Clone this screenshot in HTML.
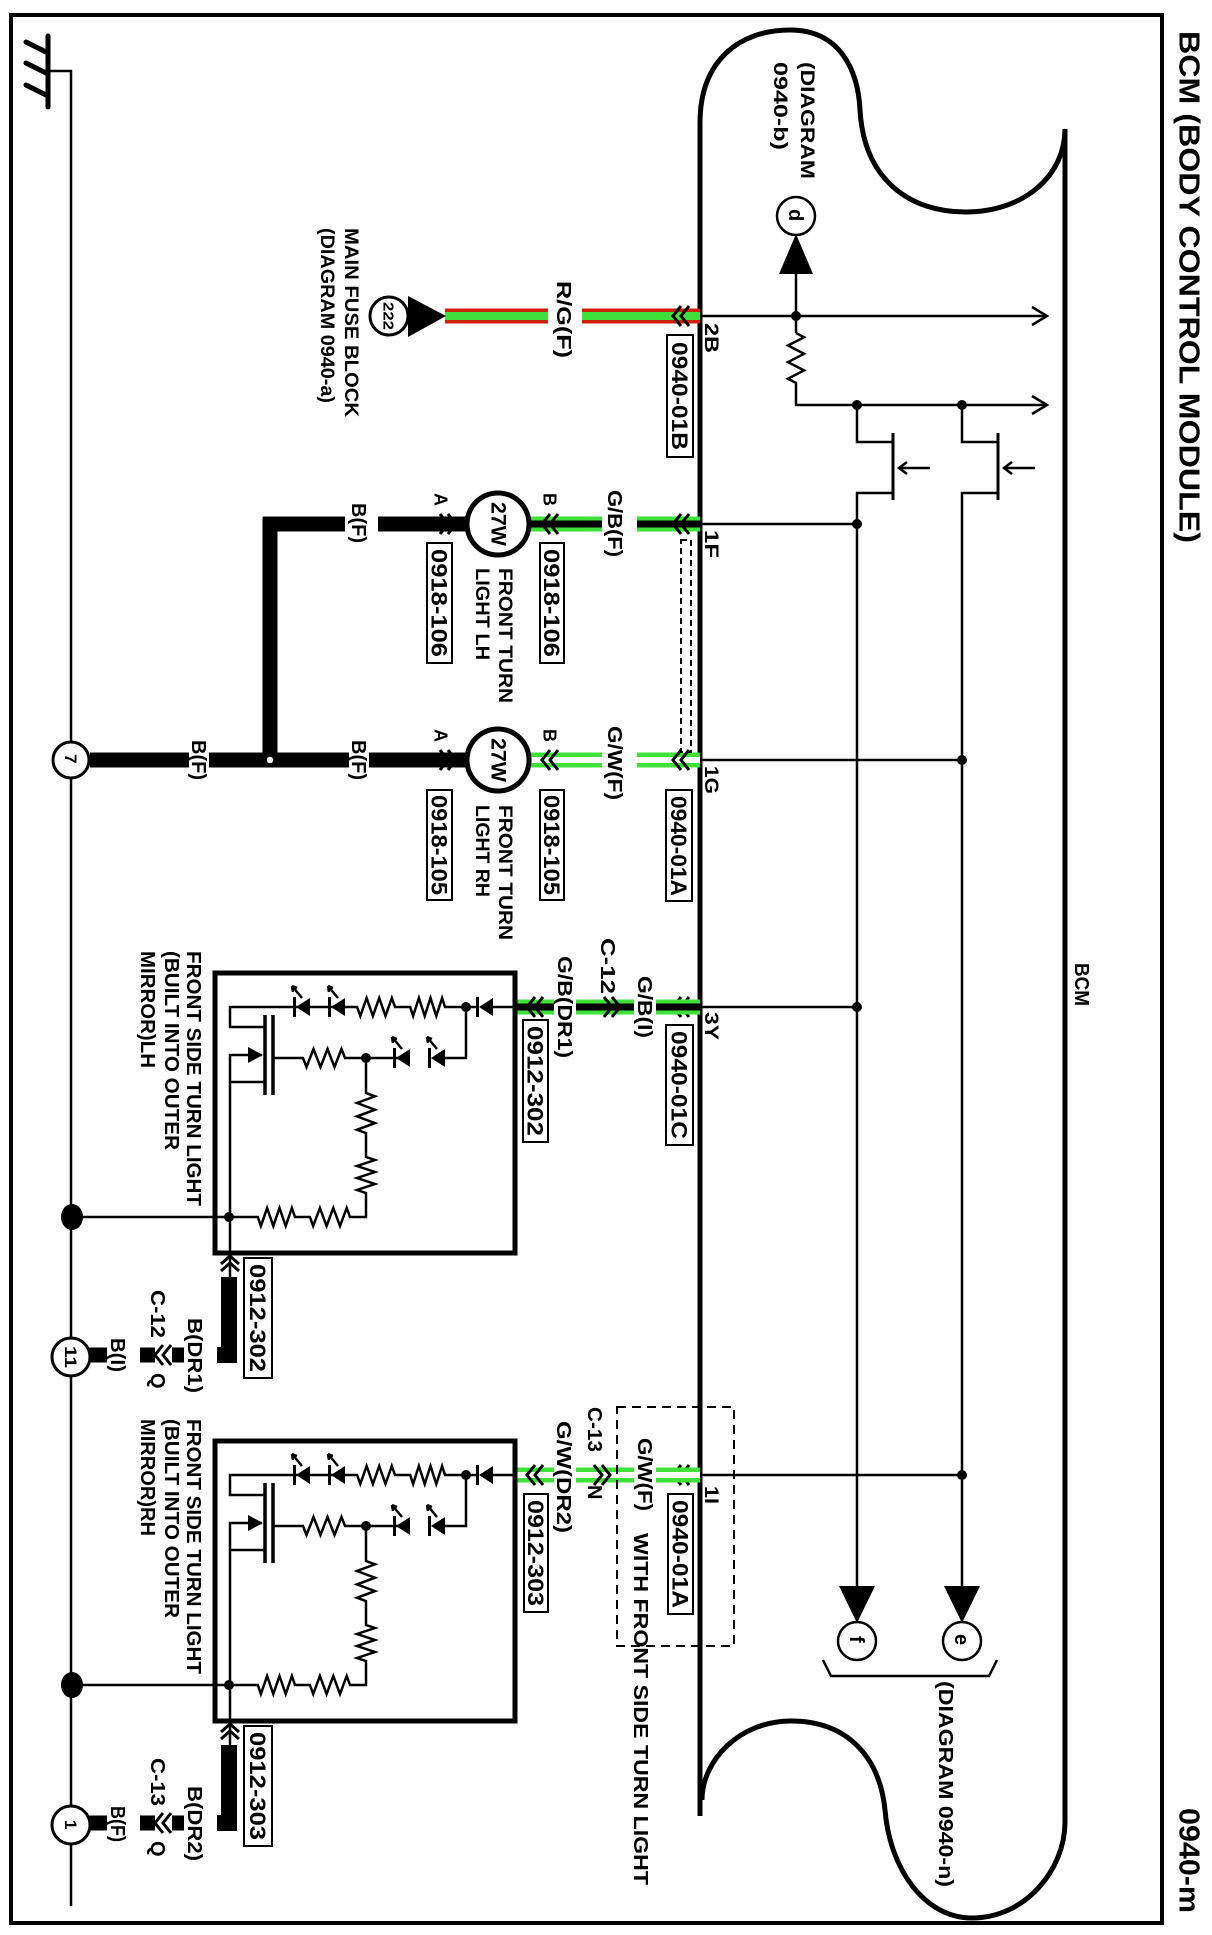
<!DOCTYPE html>
<html><head><meta charset="utf-8">
<style>
html,body{margin:0;padding:0;background:#fff;}
svg{display:block;}
text{font-family:"Liberation Sans",Arial,sans-serif;font-weight:bold;fill:#000;}
</style></head>
<body>
<svg xmlns="http://www.w3.org/2000/svg" width="1212" height="1935" viewBox="0 0 1212 1935">
<rect x="0" y="0" width="1212" height="1935" fill="#fff"/>
<!-- frame -->
<rect x="11" y="15" width="1151" height="1908" fill="none" stroke="#000" stroke-width="4"/>

<!-- ground symbol & bus -->
<g stroke="#000" stroke-linecap="round" fill="none">
<line x1="48" y1="36" x2="48" y2="107" stroke-width="5"/>
<line x1="26" y1="42" x2="48" y2="53" stroke-width="5"/>
<line x1="26" y1="63" x2="48" y2="74" stroke-width="5"/>
<line x1="26" y1="85" x2="48" y2="96" stroke-width="5"/>
</g>
<polyline points="48,71 71,71 71,1906" fill="none" stroke="#000" stroke-width="2.5"/>

<!-- BCM outline -->
<path d="M700,1816 L700,123 C700,60 740,30 790,30 C840,30 858,70 860,110 C864,180 910,212 965,212 C1025,212 1065,175 1065,129 L1065,1822 C1065,1870 1025,1918 972,1918 C925,1918 890,1870 885,1810 C880,1760 850,1721 791,1721 C740,1721 702,1760 702,1800" fill="none" stroke="#000" stroke-width="5"/>

<!-- title -->
<text transform="translate(1179.6,31) rotate(90)" font-size="29" textLength="512" lengthAdjust="spacingAndGlyphs">BCM (BODY CONTROL MODULE)</text>
<text transform="translate(1179.6,1808) rotate(90)" font-size="29" textLength="105" lengthAdjust="spacingAndGlyphs">0940-m</text>
<text transform="translate(1074.8,963) rotate(90)" font-size="20" textLength="43" lengthAdjust="spacingAndGlyphs">BCM</text>

<!-- internal BCM circuit -->
<g stroke="#000" stroke-width="2.5" fill="none">
<line x1="700" y1="316" x2="1047" y2="316"/>
<polyline points="1032,307 1047,316 1032,325"/>
<line x1="796" y1="316" x2="796" y2="274"/>
<line x1="796" y1="316" x2="796" y2="333"/>
<path d="M796,333 l8,4.2 l-16,8.3 l16,8.3 l-16,8.3 l16,8.3 l-16,8.3 l8,4.2 L796,405 L1047,405"/>
<polyline points="1032,396 1047,405 1032,414"/>
<!-- transistor 1 -->
<polyline points="857,405 857,442 893,442"/>
<line x1="893" y1="433" x2="893" y2="500" stroke-width="3"/>
<polyline points="893,493 857,493 857,1590"/>
<line x1="930" y1="468" x2="900" y2="468"/>
<polyline points="907,462 899,468 907,474"/>
<!-- transistor 2 -->
<polyline points="962,405 962,442 998,442"/>
<line x1="998" y1="433" x2="998" y2="500" stroke-width="3"/>
<polyline points="998,493 962,493 962,1590"/>
<line x1="1035" y1="468" x2="1005" y2="468"/>
<polyline points="1012,462 1004,468 1012,474"/>
<!-- pin lines -->
<line x1="700" y1="524" x2="857" y2="524"/>
<line x1="700" y1="760" x2="962" y2="760"/>
<line x1="700" y1="1007" x2="857" y2="1007"/>
<line x1="700" y1="1475" x2="962" y2="1475"/>
<!-- bracket -->
<polyline points="823,1660 831,1676 989,1676 997,1660"/>
</g>
<g fill="#000">
<circle cx="796" cy="316" r="5"/>
<circle cx="857" cy="405" r="5"/><circle cx="962" cy="405" r="5"/>
<circle cx="857" cy="524" r="5"/><circle cx="962" cy="760" r="5"/>
<circle cx="857" cy="1007" r="5"/><circle cx="962" cy="1475" r="5"/>
<polygon points="779,274 813,274 796,234"/>
<polygon points="839,1586 875,1586 857,1623"/>
<polygon points="944,1586 980,1586 962,1623"/>
</g>
<g fill="#fff" stroke="#000" stroke-width="2.5">
<circle cx="796" cy="216" r="19"/>
<circle cx="857" cy="1641" r="19"/>
<circle cx="962" cy="1641" r="19"/>
</g>
<text transform="translate(788.8,209) rotate(90)" font-size="20">d</text>
<text transform="translate(849.8,1636) rotate(90)" font-size="20">f</text>
<text transform="translate(954.8,1634) rotate(90)" font-size="20">e</text>
<text transform="translate(801.2,62) rotate(90)" font-size="19" textLength="117" lengthAdjust="spacingAndGlyphs">(DIAGRAM</text>
<text transform="translate(774.2,62) rotate(90)" font-size="19" textLength="88" lengthAdjust="spacingAndGlyphs">0940-b)</text>
<text transform="translate(938.8,1681) rotate(90)" font-size="20" textLength="206" lengthAdjust="spacingAndGlyphs">(DIAGRAM 0940-n)</text>

<!-- 2B R/G wire -->
<g>
<line x1="445" y1="316" x2="548" y2="316" stroke="#cc2200" stroke-width="15"/>
<line x1="582" y1="316" x2="700" y2="316" stroke="#cc2200" stroke-width="15"/>
<line x1="445" y1="316" x2="548" y2="316" stroke="#3fe03a" stroke-width="8"/>
<line x1="582" y1="316" x2="700" y2="316" stroke="#3fe03a" stroke-width="8"/>
</g>
<polygon points="408,296 408,337 446,316" fill="#000"/>
<circle cx="389" cy="316" r="19" fill="#fff" stroke="#000" stroke-width="3"/>
<text transform="translate(383.6,302) rotate(90)" font-size="15" textLength="28" lengthAdjust="spacingAndGlyphs">222</text>
<text transform="translate(345.2,228) rotate(90)" font-size="19" textLength="189" lengthAdjust="spacingAndGlyphs">MAIN FUSE BLOCK</text>
<text transform="translate(321.2,228) rotate(90)" font-size="19" textLength="175" lengthAdjust="spacingAndGlyphs">(DIAGRAM 0940-a)</text>
<text transform="translate(556.8,281) rotate(90)" font-size="20" textLength="77" lengthAdjust="spacingAndGlyphs">R/G(F)</text>
<text transform="translate(705.2,323) rotate(90)" font-size="19" textLength="30" lengthAdjust="spacingAndGlyphs">2B</text>
<rect x="667" y="335" width="26" height="122" fill="#fff" stroke="#000" stroke-width="2"/>
<text transform="translate(672.1,342) rotate(90)" font-size="22" textLength="108" lengthAdjust="spacingAndGlyphs">0940-01B</text>

<!-- 1F G/B wire -->
<g>
<line x1="530" y1="524" x2="602" y2="524" stroke="#3fe03a" stroke-width="15"/>
<line x1="637" y1="524" x2="700" y2="524" stroke="#3fe03a" stroke-width="15"/>
<line x1="530" y1="524" x2="602" y2="524" stroke="#000" stroke-width="7"/>
<line x1="637" y1="524" x2="700" y2="524" stroke="#000" stroke-width="7"/>
</g>
<!-- 1G G/W wire -->
<g>
<line x1="530" y1="760" x2="602" y2="760" stroke="#3fe03a" stroke-width="15"/>
<line x1="637" y1="760" x2="700" y2="760" stroke="#3fe03a" stroke-width="15"/>
<line x1="530" y1="760" x2="602" y2="760" stroke="#fff" stroke-width="6"/>
<line x1="637" y1="760" x2="700" y2="760" stroke="#fff" stroke-width="6"/>
</g>
<!-- dashed shield -->
<rect x="681" y="540" width="10" height="212" fill="none" stroke="#000" stroke-width="2" stroke-dasharray="6,4"/>

<!-- black B(F) wires -->
<g stroke="#000" stroke-width="15" fill="none">
<line x1="263" y1="524" x2="345" y2="524"/>
<line x1="378" y1="524" x2="466" y2="524"/>
<line x1="270" y1="517" x2="270" y2="767"/>
<line x1="90" y1="760" x2="189" y2="760"/>
<line x1="209" y1="760" x2="349" y2="760"/>
<line x1="369" y1="760" x2="466" y2="760"/>
</g>
<circle cx="270" cy="760" r="4" fill="#fff" stroke="#000" stroke-width="1.5"/>
<circle cx="71" cy="760" r="18" fill="#fff" stroke="#000" stroke-width="3"/>
<text transform="translate(64.9,754) rotate(90)" font-size="17">7</text>

<!-- lamps -->
<g fill="#fff" stroke="#000" stroke-width="5">
<ellipse cx="498" cy="524" rx="31" ry="31"/>
<ellipse cx="498" cy="760" rx="31" ry="31"/>
</g>
<text transform="translate(491.4,502) rotate(90)" font-size="21" textLength="44" lengthAdjust="spacingAndGlyphs">27W</text>
<text transform="translate(491.4,738) rotate(90)" font-size="21" textLength="44" lengthAdjust="spacingAndGlyphs">27W</text>

<!-- chevrons -->
<g fill="none" stroke="#000" stroke-width="3">
<!-- BCM side, left-pointing -->
<polyline points="681,306 673,316 681,326"/><polyline points="689,306 681,316 689,326"/>
<polyline points="681,514 673,524 681,534"/><polyline points="689,514 681,524 689,534"/>
<polyline points="681,750 673,760 681,770"/><polyline points="689,750 681,760 689,770"/>
<polyline points="681,997 673,1007 681,1017"/><polyline points="689,997 681,1007 689,1017"/>
<polyline points="681,1465 673,1475 681,1485"/><polyline points="689,1465 681,1475 689,1485"/>
<!-- lamp B side -->
<polyline points="550,514 542,524 550,534"/><polyline points="558,514 550,524 558,534"/>
<polyline points="550,750 542,760 550,770"/><polyline points="558,750 550,760 558,770"/>
<!-- lamp A side -->
<polyline points="440,514 448,524 440,534"/><polyline points="448,514 456,524 448,534"/>
<polyline points="440,750 448,760 440,770"/><polyline points="448,750 456,760 448,770"/>
</g>

<!-- labels top lamps -->
<text transform="translate(607.8,490) rotate(90)" font-size="20" textLength="67" lengthAdjust="spacingAndGlyphs">G/B(F)</text>
<text transform="translate(607.8,726) rotate(90)" font-size="20" textLength="74" lengthAdjust="spacingAndGlyphs">G/W(F)</text>
<text transform="translate(705.2,530) rotate(90)" font-size="19" textLength="28" lengthAdjust="spacingAndGlyphs">1F</text>
<text transform="translate(705.2,766) rotate(90)" font-size="19" textLength="28" lengthAdjust="spacingAndGlyphs">1G</text>
<text transform="translate(543.5,493) rotate(90)" font-size="18">B</text>
<text transform="translate(434.5,493) rotate(90)" font-size="18">A</text>
<text transform="translate(543.5,729) rotate(90)" font-size="18">B</text>
<text transform="translate(434.5,729) rotate(90)" font-size="18">A</text>
<text transform="translate(351.8,503) rotate(90)" font-size="20" textLength="40" lengthAdjust="spacingAndGlyphs">B(F)</text>
<text transform="translate(351.8,740) rotate(90)" font-size="20" textLength="40" lengthAdjust="spacingAndGlyphs">B(F)</text>
<text transform="translate(191.8,740) rotate(90)" font-size="20" textLength="40" lengthAdjust="spacingAndGlyphs">B(F)</text>
<text transform="translate(499.2,568) rotate(90)" font-size="19" textLength="135" lengthAdjust="spacingAndGlyphs">FRONT TURN</text>
<text transform="translate(476.2,568) rotate(90)" font-size="19" textLength="92" lengthAdjust="spacingAndGlyphs">LIGHT LH</text>
<text transform="translate(499.2,805) rotate(90)" font-size="19" textLength="135" lengthAdjust="spacingAndGlyphs">FRONT TURN</text>
<text transform="translate(476.2,805) rotate(90)" font-size="19" textLength="92" lengthAdjust="spacingAndGlyphs">LIGHT RH</text>
<g fill="#fff" stroke="#000" stroke-width="2">
<rect x="540" y="543" width="24" height="120"/>
<rect x="427" y="543" width="25" height="120"/>
<rect x="540" y="790" width="24" height="110"/>
<rect x="427" y="790" width="25" height="110"/>
<rect x="666" y="790" width="26" height="111"/>
</g>
<text transform="translate(544.1,549) rotate(90)" font-size="22" textLength="108" lengthAdjust="spacingAndGlyphs">0918-106</text>
<text transform="translate(431.6,549) rotate(90)" font-size="22" textLength="108" lengthAdjust="spacingAndGlyphs">0918-106</text>
<text transform="translate(544.1,795) rotate(90)" font-size="22" textLength="100" lengthAdjust="spacingAndGlyphs">0918-105</text>
<text transform="translate(431.6,795) rotate(90)" font-size="22" textLength="100" lengthAdjust="spacingAndGlyphs">0918-105</text>
<text transform="translate(671.1,796) rotate(90)" font-size="22" textLength="100" lengthAdjust="spacingAndGlyphs">0940-01A</text>

<!-- 3Y wire G/B -->
<g>
<g stroke="#3fe03a" stroke-width="15">
<line x1="516" y1="1007" x2="554" y2="1007"/>
<line x1="576" y1="1007" x2="634" y2="1007"/>
<line x1="656" y1="1007" x2="700" y2="1007"/>
</g>
<g stroke="#000" stroke-width="7">
<line x1="516" y1="1007" x2="554" y2="1007"/>
<line x1="576" y1="1007" x2="634" y2="1007"/>
<line x1="656" y1="1007" x2="700" y2="1007"/>
</g>
</g>
<!-- 1I wire G/W -->
<g>
<g stroke="#3fe03a" stroke-width="15">
<line x1="516" y1="1475" x2="554" y2="1475"/>
<line x1="576" y1="1475" x2="634" y2="1475"/>
<line x1="656" y1="1475" x2="700" y2="1475"/>
</g>
<g stroke="#fff" stroke-width="6">
<line x1="516" y1="1475" x2="554" y2="1475"/>
<line x1="576" y1="1475" x2="634" y2="1475"/>
<line x1="656" y1="1475" x2="700" y2="1475"/>
</g>
</g>
<g fill="none" stroke="#000" stroke-width="3">
<polyline points="535,997 527,1007 535,1017"/><polyline points="543,997 535,1007 543,1017"/>
<polyline points="604,997 612,1007 604,1017"/><polyline points="612,997 620,1007 612,1017"/>
<polyline points="535,1465 527,1475 535,1485"/><polyline points="543,1465 535,1475 543,1485"/>
<polyline points="594,1465 602,1475 594,1485"/><polyline points="602,1465 610,1475 602,1485"/>
</g>
<rect x="617" y="1407" width="117" height="239" fill="none" stroke="#000" stroke-width="2" stroke-dasharray="9,6"/>

<text transform="translate(637.8,976) rotate(90)" font-size="20" textLength="62" lengthAdjust="spacingAndGlyphs">G/B(I)</text>
<text transform="translate(600.8,938) rotate(90)" font-size="20" textLength="56" lengthAdjust="spacingAndGlyphs">C-12</text>
<text transform="translate(557.8,956) rotate(90)" font-size="20" textLength="102" lengthAdjust="spacingAndGlyphs">G/B(DR1)</text>
<text transform="translate(705.2,1012) rotate(90)" font-size="19" textLength="28" lengthAdjust="spacingAndGlyphs">3Y</text>
<text transform="translate(637.8,1438) rotate(90)" font-size="20" textLength="73" lengthAdjust="spacingAndGlyphs">G/W(F)</text>
<text transform="translate(633.8,1533) rotate(90)" font-size="20" textLength="352" lengthAdjust="spacingAndGlyphs">WITH FRONT SIDE TURN LIGHT</text>
<text transform="translate(587.8,1407) rotate(90)" font-size="20" textLength="45" lengthAdjust="spacingAndGlyphs">C-13</text>
<text transform="translate(587.8,1485) rotate(90)" font-size="20">N</text>
<text transform="translate(556.8,1421) rotate(90)" font-size="20" textLength="112" lengthAdjust="spacingAndGlyphs">G/W(DR2)</text>
<text transform="translate(705.2,1486) rotate(90)" font-size="19" textLength="18" lengthAdjust="spacingAndGlyphs">1I</text>
<g fill="#fff" stroke="#000" stroke-width="2">
<rect x="666" y="1025" width="27" height="120"/>
<rect x="523" y="1020" width="25" height="122"/>
<rect x="668" y="1494" width="25" height="120"/>
<rect x="524" y="1494" width="24" height="118"/>
</g>
<text transform="translate(671.6,1031) rotate(90)" font-size="22" textLength="108" lengthAdjust="spacingAndGlyphs">0940-01C</text>
<text transform="translate(527.6,1026) rotate(90)" font-size="22" textLength="110" lengthAdjust="spacingAndGlyphs">0912-302</text>
<text transform="translate(672.6,1500) rotate(90)" font-size="22" textLength="108" lengthAdjust="spacingAndGlyphs">0940-01A</text>
<text transform="translate(528.1,1500) rotate(90)" font-size="22" textLength="106" lengthAdjust="spacingAndGlyphs">0912-303</text>

<!-- module 1 -->
<g id="m1">
<rect x="215" y="973" width="300" height="280" fill="none" stroke="#000" stroke-width="5"/>
<g fill="none" stroke="#000" stroke-width="2.5">
<line x1="515" y1="1007" x2="493" y2="1007"/>
<path d="M478,1007 L445,1007 l-2.9,-9 l-5.8,18 l-5.8,-18 l-5.8,18 l-5.8,-18 l-5.8,18 l-2.9,-9 L395,1007 l-3.2,-9 l-6.3,18 l-6.3,-18 l-6.3,18 l-6.3,-18 l-6.3,18 l-3.2,-9 L294,1007 L230,1007 L230,1027 L265,1027"/>
<path d="M466,1007 L466,1058 L445,1058 M410,1058 L345,1058 l-3.5,-9 l-7,18 l-7,-18 l-7,18 l-7,-18 l-7,18 l-3.5,-9 L273,1058"/>
<line x1="265" y1="1015" x2="265" y2="1095" stroke-width="3.5"/>
<line x1="273" y1="1015" x2="273" y2="1095" stroke-width="3.5"/>
<polyline points="262,1055 230,1055 230,1277"/>
<polyline points="265,1082 230,1082"/>
<path d="M366,1058 L366,1093 l9,3.3 l-18,6.7 l18,6.7 l-18,6.7 l18,6.7 l-18,6.7 l9,3.3 L366,1157 l9,3 l-18,6 l18,6 l-18,6 l18,6 l-18,6 l9,3 L366,1217 L350,1217 l-3.3,-9 l-6.7,18 l-6.7,-18 l-6.7,18 l-6.7,-18 l-6.7,18 l-3.3,-9 L295,1217 l-3.1,-9 l-6.2,18 l-6.2,-18 l-6.2,18 l-6.2,-18 l-6.2,18 l-3.1,-9 L72,1217"/>
<!-- LED arrows -->
<path d="M302,998 l-10,-12 M292,986 l1,6 M292,986 l5,2 M338,998 l-10,-12 M328,986 l1,6 M328,986 l5,2"/>
<path d="M402,1049 l-10,-12 M392,1037 l1,6 M392,1037 l5,2 M437,1049 l-10,-12 M427,1037 l1,6 M427,1037 l5,2"/>
</g>
<g fill="#000">
<polygon points="493,998 493,1016 479,1007"/><rect x="476" y="997" width="3" height="20"/>
<polygon points="345,998 345,1016 331,1007"/><rect x="328" y="997" width="3" height="20"/>
<polygon points="310,998 310,1016 296,1007"/><rect x="293" y="997" width="3" height="20"/>
<polygon points="445,1049 445,1067 431,1058"/><rect x="428" y="1048" width="3" height="20"/>
<polygon points="410,1049 410,1067 396,1058"/><rect x="393" y="1048" width="3" height="20"/>
<polygon points="248,1047 248,1063 263,1055"/>
<circle cx="466" cy="1007" r="5"/><circle cx="366" cy="1058" r="5"/><circle cx="229" cy="1217" r="5"/>
<ellipse cx="72" cy="1217" rx="11" ry="13"/>
</g>
<g fill="none" stroke="#000" stroke-width="3">
<polyline points="221,1264 230,1256 239,1264"/><polyline points="221,1271 230,1263 239,1271"/>
</g>
<g stroke="#000" fill="none">
<polyline points="229,1277 229,1355 217,1355" stroke-width="16"/>
<line x1="172" y1="1355" x2="184" y2="1355" stroke-width="15"/>
<line x1="140" y1="1355" x2="155" y2="1355" stroke-width="15"/>
<line x1="88" y1="1355" x2="107" y2="1355" stroke-width="15"/>
<polyline points="163,1345 155,1355 163,1365" stroke-width="3"/>
<polyline points="171,1345 163,1355 171,1365" stroke-width="3"/>
</g>
<circle cx="71" cy="1357" r="19" fill="#fff" stroke="#000" stroke-width="3"/>
<rect x="244" y="1258" width="28" height="120" fill="#fff" stroke="#000" stroke-width="2"/>
</g>
<use href="#m1" transform="translate(0,468)"/>

<!-- module texts -->
<text transform="translate(186.8,951) rotate(90)" font-size="20" textLength="255" lengthAdjust="spacingAndGlyphs">FRONT SIDE TURN LIGHT</text>
<text transform="translate(164.8,951) rotate(90)" font-size="20" textLength="199" lengthAdjust="spacingAndGlyphs">(BUILT INTO OUTER</text>
<text transform="translate(140.8,951) rotate(90)" font-size="20" textLength="117" lengthAdjust="spacingAndGlyphs">MIRROR)LH</text>
<text transform="translate(186.8,1419) rotate(90)" font-size="20" textLength="255" lengthAdjust="spacingAndGlyphs">FRONT SIDE TURN LIGHT</text>
<text transform="translate(164.8,1419) rotate(90)" font-size="20" textLength="199" lengthAdjust="spacingAndGlyphs">(BUILT INTO OUTER</text>
<text transform="translate(140.8,1419) rotate(90)" font-size="20" textLength="117" lengthAdjust="spacingAndGlyphs">MIRROR)RH</text>

<text transform="translate(250.1,1264) rotate(90)" font-size="22" textLength="108" lengthAdjust="spacingAndGlyphs">0912-302</text>
<text transform="translate(187.8,1318) rotate(90)" font-size="20" textLength="75" lengthAdjust="spacingAndGlyphs">B(DR1)</text>
<text transform="translate(150.8,1290) rotate(90)" font-size="20" textLength="48" lengthAdjust="spacingAndGlyphs">C-12</text>
<text transform="translate(150.8,1373) rotate(90)" font-size="20">Q</text>
<text transform="translate(110.8,1338) rotate(90)" font-size="20" textLength="34" lengthAdjust="spacingAndGlyphs">B(I)</text>
<text transform="translate(64.9,1346) rotate(90)" font-size="17" textLength="22" lengthAdjust="spacingAndGlyphs">11</text>

<text transform="translate(250.1,1732) rotate(90)" font-size="22" textLength="108" lengthAdjust="spacingAndGlyphs">0912-303</text>
<text transform="translate(187.8,1786) rotate(90)" font-size="20" textLength="75" lengthAdjust="spacingAndGlyphs">B(DR2)</text>
<text transform="translate(150.8,1758) rotate(90)" font-size="20" textLength="48" lengthAdjust="spacingAndGlyphs">C-13</text>
<text transform="translate(150.8,1841) rotate(90)" font-size="20">Q</text>
<text transform="translate(110.8,1806) rotate(90)" font-size="20" textLength="36" lengthAdjust="spacingAndGlyphs">B(F)</text>
<text transform="translate(64.9,1820) rotate(90)" font-size="17">1</text>
</svg>
</body></html>
